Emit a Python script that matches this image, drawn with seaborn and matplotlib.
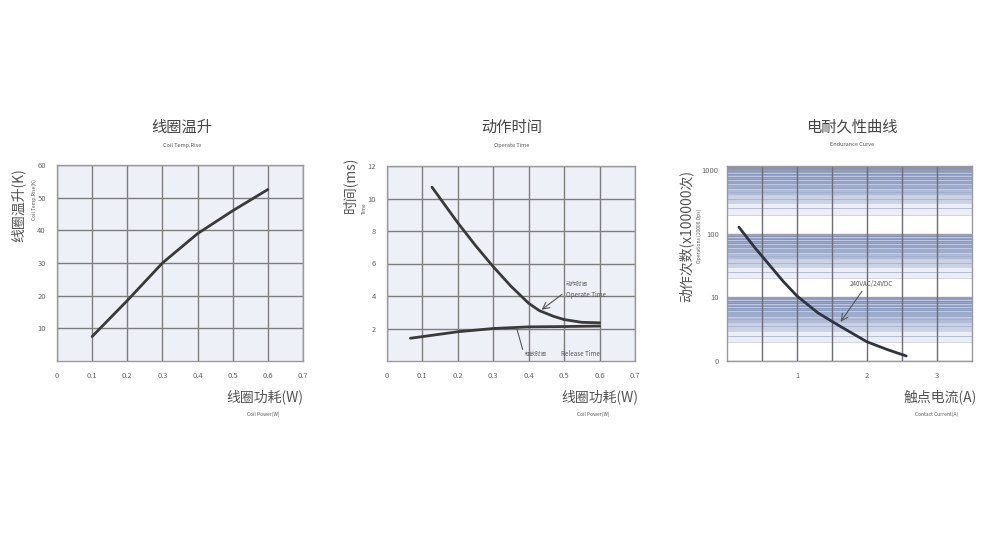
"""
继电器特性曲线 (线圈温升 / 动作时间 / 电耐久性)
"""
import matplotlib
matplotlib.use('Agg')
import matplotlib.pyplot as plt
import seaborn as sns
import pandas as pd
import numpy as np

# 데이터
coil_power = [0.1, 0.2, 0.3, 0.4, 0.5, 0.6]
coil_temp_rise = [7.5, 18.5, 30, 39, 46, 52.5]

operate_power = [0.127, 0.17, 0.2, 0.25, 0.3, 0.35, 0.4, 0.43, 0.47, 0.5, 0.55, 0.6]
operate_time = [10.7, 9.4, 8.5, 7.1, 5.8, 4.6, 3.55, 3.1, 2.75, 2.55, 2.38, 2.35]
release_power = [0.066, 0.15, 0.2, 0.3, 0.4, 0.5, 0.6]
release_time = [1.4, 1.65, 1.8, 2.0, 2.1, 2.12, 2.15]

contact_current = [0.17, 0.4, 0.62, 0.8, 1.0, 1.3, 1.6, 2.0, 2.3, 2.56]
operations = [127, 60, 31, 18, 10.5, 5.7, 3.6, 2.0, 1.5, 1.2]

power_ticks = [0, 0.1, 0.2, 0.3, 0.4, 0.5, 0.6, 0.7]
temp_ticks = [10, 20, 30, 40, 50, 60]
time_ticks = [2, 4, 6, 8, 10, 12]
ops_ticks = [1, 10, 100, 1000]
ops_labels = ['0', '10', '100', '1000']
current_ticks = [1, 2, 3]

sns.set_theme(style='white')
plt.rcParams['font.family'] = ['Noto Sans CJK SC', 'DejaVu Sans']
plt.rcParams['axes.unicode_minus'] = False

W, H = 1000, 542
fig = plt.figure(figsize=(W / 100, H / 100), dpi=100)
fig.patch.set_facecolor('white')


def px_axes(x0, x1, y0, y1):
    """픽셀 좌표로 축 생성"""
    return fig.add_axes([x0 / W, 1 - y1 / H, (x1 - x0) / W, (y1 - y0) / H])


def ftext(x, y, s, **kw):
    fig.text(x / W, 1 - y / H, s, **kw)


line_c = '#3a3a3a'
grid_c = '#7e7e7e'
tick_c = '#666666'


def style_axes(ax, bg):
    ax.set_facecolor(bg)
    for sp in ax.spines.values():
        sp.set_color('#9a9a9a')
        sp.set_linewidth(1.0)
    ax.tick_params(length=0, labelsize=5.5, colors=tick_c, pad=8)
    ax.set_xlabel('')
    ax.set_ylabel('')


# ---- 1. 线圈温升 ----
ax1 = px_axes(57, 303, 165, 361)
df1 = pd.DataFrame({'p': coil_power, 't': coil_temp_rise})
sns.lineplot(data=df1, x='p', y='t', ax=ax1, color=line_c, linewidth=2)
ax1.set_xlim(0, 0.7)
ax1.set_ylim(0, 60)
ax1.set_xticks(power_ticks)
ax1.set_xticklabels([f'{v:g}' for v in power_ticks])
ax1.set_yticks(temp_ticks)
ax1.grid(True, color=grid_c, linewidth=1.0)
ax1.set_axisbelow(True)
style_axes(ax1, '#eef0f8')

# ---- 2. 动作时间 ----
ax2 = px_axes(387, 635, 166, 361)
df_op = pd.DataFrame({'p': operate_power, 't': operate_time})
df_rel = pd.DataFrame({'p': release_power, 't': release_time})
sns.lineplot(data=df_op, x='p', y='t', ax=ax2, color=line_c, linewidth=2)
sns.lineplot(data=df_rel, x='p', y='t', ax=ax2, color=line_c, linewidth=2)
ax2.set_xlim(0, 0.7)
ax2.set_ylim(0, 12)
ax2.set_xticks(power_ticks)
ax2.set_xticklabels([f'{v:g}' for v in power_ticks])
ax2.set_yticks(time_ticks)
ax2.grid(True, color=grid_c, linewidth=1.0)
ax2.set_axisbelow(True)
style_axes(ax2, '#eef0f8')

ax2.annotate('', xy=(0.43, 3.05), xytext=(0.5, 4.2),
             arrowprops=dict(arrowstyle='->', color='#555555', lw=0.8))
ax2.text(0.505, 4.6, '动作时间', fontsize=4, color='#666666')
ax2.text(0.505, 3.95, 'Operate Time', fontsize=4.5, color='#555555')
ax2.annotate('', xy=(0.365, 2.1), xytext=(0.385, 0.55),
             arrowprops=dict(arrowstyle='-', color='#555555', lw=0.8))
ax2.text(0.39, 0.3, '释放时间', fontsize=4, color='#666666')
ax2.text(0.49, 0.3, 'Release Time', fontsize=4.5, color='#555555')

# ---- 3. 电耐久性曲线 ----
ax3 = px_axes(727, 972, 166, 361)
ax3.set_yscale('log')
ax3.set_xlim(0, 3.5)
ax3.set_ylim(1, 1160)

band_c = '#7d8fbb'
band_alpha = [0.0, 0.15, 0.4, 0.6, 0.75, 0.85, 0.9, 0.95, 0.95]
for d in [1, 10, 100, 1000]:
    for k in range(1, 10):
        lo, hi = d * k, min(d * (k + 1), 1160)
        if lo >= 1160:
            break
        a = 0.95 if d == 1000 else band_alpha[k - 1]
        if a > 0:
            ax3.axhspan(lo, hi, color=band_c, alpha=a, lw=0)
            ax3.axhline(lo, color='#c7cfe4', linewidth=0.6)
            ax3.axhline(d * (k + 0.5), color='#9eaacb', linewidth=0.5)
        else:
            ax3.axhline(lo, color='#b8b8b8', linewidth=0.7)
for d in ops_ticks:
    ax3.axhline(d, color='#a0a0aa', linewidth=1.0)
for xv in np.arange(0.5, 3.5, 0.5):
    ax3.axvline(xv, color='#6d6d78', linewidth=1.0)

df3 = pd.DataFrame({'i': contact_current, 'n': operations})
sns.lineplot(data=df3, x='i', y='n', ax=ax3, color='#2f3440', linewidth=2)
ax3.set_yticks(ops_ticks)
ax3.set_yticklabels(ops_labels)
ax3.minorticks_off()
ax3.set_xticks(current_ticks)
style_axes(ax3, 'white')
ax3.tick_params(axis='y', pad=6)

ax3.annotate('', xy=(1.6, 3.8), xytext=(1.95, 13.5),
             arrowprops=dict(arrowstyle='->', color='#555555', lw=0.8))
ax3.text(1.75, 15, '240VAC/24VDC', fontsize=4.5, color='#555555')

# ---- 제목 / 축 레이블 ----
titles = [(182, '线圈温升', 'Coil Temp.Rise'),
          (512, '动作时间', 'Operate Time'),
          (852, '电耐久性曲线', 'Endurance Curve')]
for cx, zh, en in titles:
    ftext(cx, 127, zh, fontsize=11, color='#444444', ha='center', va='center')
    ftext(cx, 145, en, fontsize=4, color='#555555', ha='center', va='center')

ftext(18, 205, '线圈温升(K)', fontsize=10, color='#555555', rotation=90,
      ha='center', va='center')
ftext(34, 200, 'Coil Temp.Rise(K)', fontsize=3.5, color='#555555', rotation=90,
      ha='center', va='center')
ftext(350, 185, '时间(ms)', fontsize=10, color='#555555', rotation=90,
      ha='center', va='center')
ftext(364, 208, 'Time', fontsize=3.5, color='#555555', rotation=90,
      ha='center', va='center')
ftext(686, 236, '动作次数(x100000次)', fontsize=10, color='#555555', rotation=90,
      ha='center', va='center')
ftext(699, 236, 'Operations (10000 Ops)', fontsize=3.5, color='#555555',
      rotation=90, ha='center', va='center')

xlabels = [(303, 263, '线圈功耗(W)', 'Coil Power(W)'),
           (638, 593, '线圈功耗(W)', 'Coil Power(W)'),
           (977, 937, '触点电流(A)', 'Contact Current(A)')]
for rx, sx, zh, en in xlabels:
    ftext(rx, 397, zh, fontsize=10, color='#555555', ha='right', va='center')
    ftext(sx, 414, en, fontsize=3.5, color='#555555', ha='center', va='center')

fig.savefig('out.png', dpi=100)
